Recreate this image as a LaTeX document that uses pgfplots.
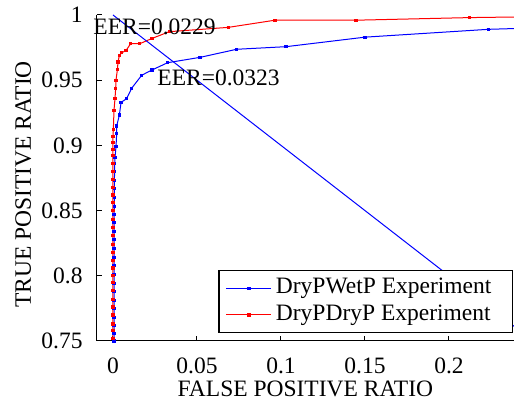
\documentclass[border=0pt]{standalone}
\usepackage{fontspec}
\setmainfont{Liberation Serif}
\usepackage{pgfplots}
\pgfplotsset{compat=1.18}
\begin{document}
\begin{tikzpicture}
\begin{axis}[
 scale only axis, width=208.65pt, height=163pt,
 xmin=-0.0097, xmax=0.2387, ymin=0.75, ymax=1,
 axis x line=bottom, axis y line=left,
 axis line style={line width=0.5pt, -},
 xtick pos=bottom, ytick pos=left,
 tick align=inside, major tick length=2.5pt, tick style={line width=0.5pt, black},
 xtick={0,0.05,0.1,0.15,0.2}, xticklabels={0,0.05,0.1,0.15,0.2},
 ytick={0.75,0.8,0.85,0.9,0.95,1}, yticklabels={0.75,0.8,0.85,0.9,0.95,1},
 tick label style={font=\fontsize{11.75}{14}\selectfont, inner sep=0pt},
 xticklabel style={yshift=-8pt},
 yticklabel style={xshift=-6.85pt},
 xlabel={FALSE POSITIVE RATIO}, ylabel={TRUE POSITIVE RATIO},
 xlabel style={font=\fontsize{11.75}{14}\selectfont, at={(axis description cs:0.5,-0.121)}, anchor=north, inner sep=0pt},
 ylabel style={font=\fontsize{11.75}{14}\selectfont, at={(axis description cs:-0.196,0.48)}, anchor=north, inner sep=0pt},
 legend style={at={(axis description cs:0.9976,0.0245)}, anchor=south east, draw=black, line width=0.6pt,
   font=\fontsize{11.75}{14}\selectfont, inner xsep=3.5pt, inner ysep=2.5pt, row sep=0.8pt, column sep=1pt,
   nodes={inner sep=1pt, text height=8pt, text depth=2.5pt}},
 legend cell align=left,
 legend image code/.code={\draw[mark repeat=2,mark phase=2,#1] plot coordinates {(0pt,0pt) (11.25pt,0pt) (22.5pt,0pt)};},
]
\addplot[blue, line width=0.5pt, mark=square*, mark size=0.55pt] coordinates {
(0.0006,0.750) (0.0006,0.756) (0.0006,0.762) (0.0006,0.768) (0.0006,0.775) (0.0006,0.781) (0.0006,0.788) (0.0006,0.794)
(0.0006,0.801) (0.0006,0.808) (0.0006,0.814) (0.0006,0.821) (0.0006,0.828) (0.0006,0.834) (0.0006,0.841) (0.0006,0.847)
(0.0008,0.853) (0.0008,0.860) (0.0008,0.867) (0.0008,0.873) (0.0010,0.880) (0.0010,0.886) (0.0012,0.891) (0.0018,0.899)
(0.0022,0.9093) (0.0022,0.9149) (0.0038,0.9233) (0.0048,0.9330) (0.0081,0.9358) (0.0111,0.9438) (0.0171,0.9538)
(0.0232,0.9578) (0.0325,0.9634) (0.0518,0.9675) (0.0736,0.9737) (0.1030,0.9757) (0.1500,0.9830) (0.2234,0.9890) (0.3000,0.9920)
};
\addlegendentry{DryPWetP Experiment\hspace*{6pt}}
\addplot[red, line width=0.5pt, mark=square*, mark size=0.55pt] coordinates {
(0,0.752) (0,0.758) (0,0.763) (0,0.770) (0,0.776) (0,0.782) (0,0.789) (0,0.795) (0,0.800) (0,0.806) (0,0.812) (0,0.818)
(0,0.824) (0,0.831) (0,0.837) (0,0.843) (0,0.850) (0,0.856) (0,0.862) (0,0.868) (0,0.874) (0,0.880) (0,0.886) (0,0.892)
(0,0.897) (0,0.902) (0,0.907) (0.0002,0.912) (0.0006,0.927) (0.0012,0.936) (0.0016,0.9438) (0.0018,0.950) (0.0026,0.958)
(0.0030,0.964) (0.0038,0.969) (0.0052,0.971) (0.0077,0.9726) (0.0105,0.978) (0.0160,0.978) (0.0232,0.982) (0.0335,0.9872)
(0.0686,0.9905) (0.0964,0.996) (0.1446,0.996) (0.2123,0.998) (0.3,0.9995)
};
\addlegendentry{DryPDryP Experiment\hspace*{6pt}}
\addplot[blue, line width=0.5pt, no marks, forget plot] coordinates {(0,1) (1,0)};
\coordinate (sw) at (rel axis cs:0,0);
\coordinate (e1) at (axis cs:-0.0119,0.9854);
\coordinate (e2) at (axis cs:0.0262,0.9456);
\end{axis}
\node[anchor=base west, inner sep=0pt, font=\fontsize{11.75}{14}\selectfont] at (e1) {EER=0.0229};
\node[anchor=base west, inner sep=0pt, font=\fontsize{11.75}{14}\selectfont] at (e2) {EER=0.0323};
\pgfresetboundingbox
\path[use as bounding box] (sw) ++(-48.35pt,-30.5pt) rectangle ++(257pt,201pt);
\end{tikzpicture}
\end{document}
